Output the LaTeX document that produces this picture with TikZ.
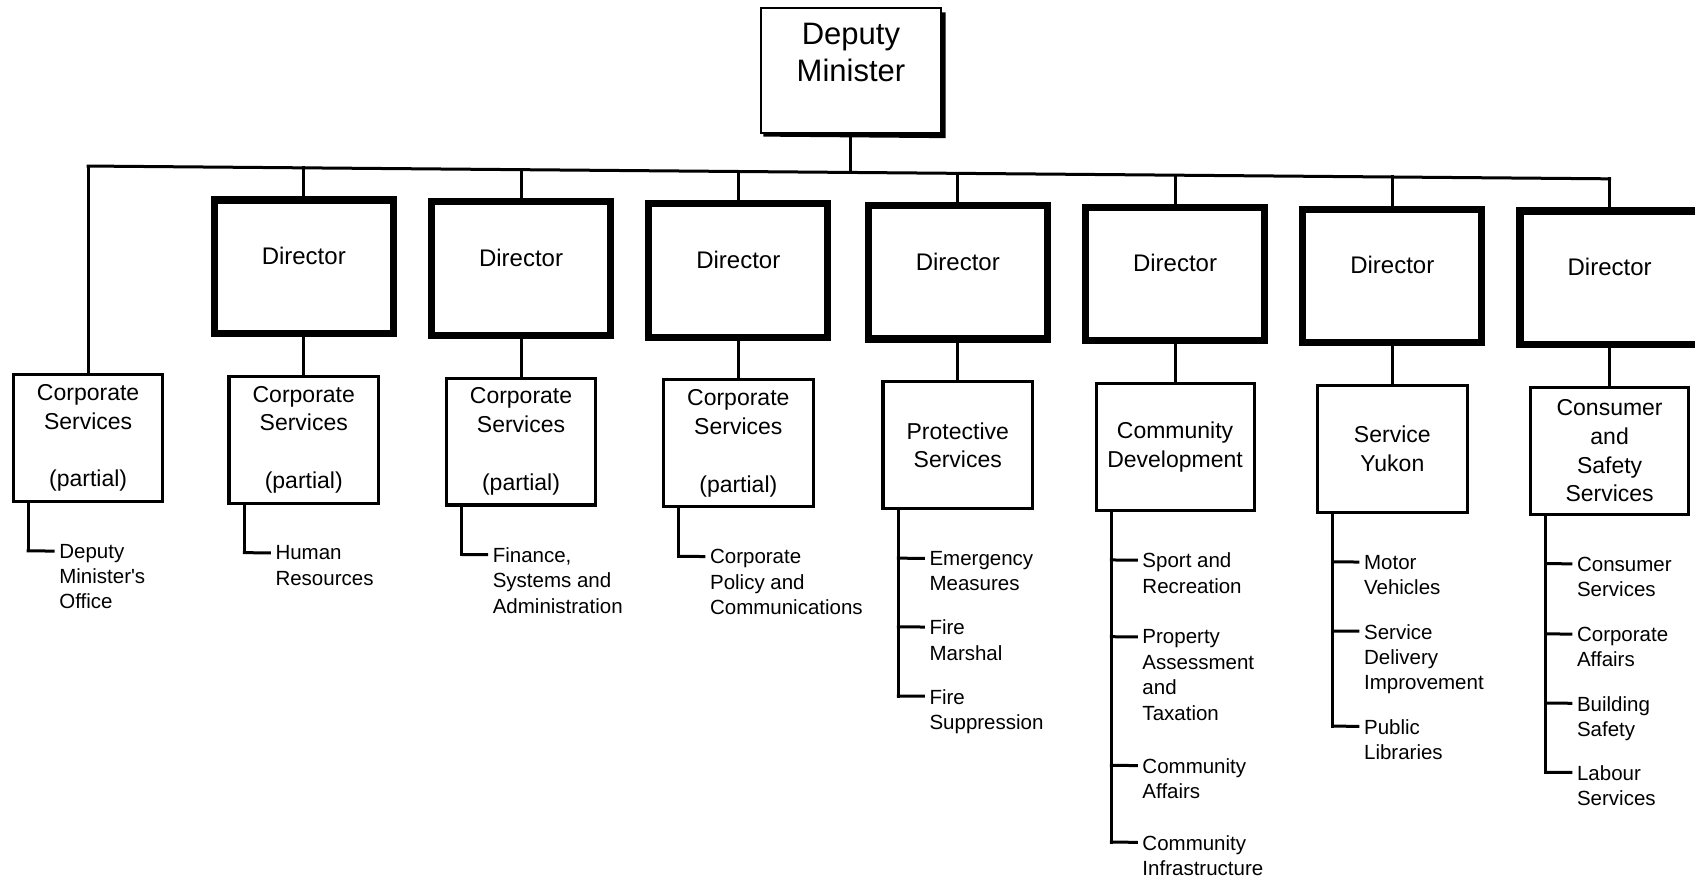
\documentclass[tikz,border=0pt]{standalone}
\usepackage{fontspec}
\setmainfont{Liberation Sans}[Ligatures=TeXOff]
\usetikzlibrary{backgrounds}
\newcommand{\mkleaf}[4]{%
  \node[leaf] (#1) at ({#2+28.7},{#3-6.8}) {#4};
  \draw[conn] (#1.north west) ++(-6pt,-7.3pt) -- ++(-25pt,0) coordinate (#1t);}
\begin{document}
\begin{tikzpicture}[x=1.081pt,y=-1.081pt,
  conn/.style={line width=3pt,line cap=rect},
  dmbox/.style={draw,line width=2.2pt,fill=white,minimum width=180pt,minimum height=125pt,inner sep=0pt,align=center,font=\fontsize{31}{37}\selectfont},
  dirbox/.style={draw,line width=7.3pt,minimum width=179pt,minimum height=133.5pt,inner sep=0pt,font=\fontsize{24}{29}\selectfont,text height=10pt,text depth=14.4pt},
  subbox/.style={draw,line width=3.1pt,minimum width=149.5pt,minimum height=126.9pt,inner sep=0pt,align=center,font=\fontsize{23}{28.8}\selectfont},
  widebox/.style={subbox,minimum width=158pt},
  leaf/.style={anchor=north west,inner sep=0pt,align=left,font=\fontsize{20.5}{25.4}\selectfont},
]
\useasboundingbox (0,0) rectangle (1568,812);
\clip (0,0) rectangle (1568,812);
\begin{scope}[cm={1,-0.0084,0,1,(0pt,7.13pt)}]
% top
\node[dmbox] (dm) at (787.2,65.2) {Deputy\\Minister\\\mbox{}};
\begin{scope}[on background layer]
  \fill ([shift={(3.5pt,-4pt)}]dm.north west) rectangle ([shift={(3.5pt,-4pt)}]dm.south east);
\end{scope}
% directors
\node[dirbox] (d1) at (281,251) {Director};
\node[dirbox] (d2) at (482,251) {Director};
\node[dirbox] (d3) at (683,251) {Director};
\node[dirbox] (d4) at (886,251) {Director};
\node[dirbox] (d5) at (1087,251) {Director};
\node[dirbox] (d6) at (1288,251) {Director};
\node[dirbox] (d7) at (1489,251) {Director};
% second level
\node[subbox] (s0) at (81.5,411) {Corporate\\Services\\\mbox{}\\(partial)};
\node[subbox] (s1) at (281,411) {Corporate\\Services\\\mbox{}\\(partial)};
\node[subbox] (s2) at (482,411) {Corporate\\Services\\\mbox{}\\(partial)};
\node[subbox] (s3) at (683,411) {Corporate\\Services\\\mbox{}\\(partial)};
\node[subbox] (s4) at (886,411) {Protective\\Services};
\node[widebox] (s5) at (1087,411) {Community\\Development};
\node[subbox] (s6) at (1288,411) {Service\\Yukon};
\node[widebox] (s7) at (1489,411) {Consumer\\and\\Safety\\Services};
% bus
\coordinate (busL) at (81.5,159.5);
\coordinate (busR) at (1489,159.5);
\draw[conn] (busL) -- (busR);
\draw[conn] (dm.south) -- (dm.south |- busL);
\draw[conn] (busL) -- (s0.north);
\foreach \i in {1,...,7}{
  \draw[conn] (d\i.north |- busL) -- (d\i.north);
  \draw[conn] (d\i.south) -- (s\i.north);
}
% leaves
\mkleaf{l0a}{26}{516}{Deputy\\Minister's\\Office}
\draw[conn] (s0.south -| l0at) -- (l0at);
\mkleaf{l1a}{226}{516}{Human\\Resources}
\draw[conn] (s1.south -| l1at) -- (l1at);
\mkleaf{l2a}{427}{516}{Finance,\\Systems and\\Administration}
\draw[conn] (s2.south -| l2at) -- (l2at);
\mkleaf{l3a}{628}{516}{Corporate\\Policy and\\Communications}
\draw[conn] (s3.south -| l3at) -- (l3at);
\mkleaf{l4a}{831}{516}{Emergency\\Measures}
\mkleaf{l4b}{831}{579.5}{Fire\\Marshal}
\mkleaf{l4c}{831}{643.5}{Fire\\Suppression}
\draw[conn] (s4.south -| l4ct) -- (l4ct);
\mkleaf{l5a}{1028}{516}{Sport and\\Recreation}
\mkleaf{l5b}{1028}{587}{Property\\Assessment\\and\\Taxation}
\mkleaf{l5c}{1028}{706}{Community\\Affairs}
\mkleaf{l5d}{1028}{777}{Community\\Infrastructure}
\draw[conn] (s5.south -| l5dt) -- (l5dt);
\mkleaf{l6a}{1233}{516}{Motor\\Vehicles}
\mkleaf{l6b}{1233}{580}{Service\\Delivery\\Improvement}
\mkleaf{l6c}{1233}{668}{Public\\Libraries}
\draw[conn] (s6.south -| l6ct) -- (l6ct);
\mkleaf{l7a}{1430}{516}{Consumer\\Services}
\mkleaf{l7b}{1430}{581}{Corporate\\Affairs}
\mkleaf{l7c}{1430}{645}{Building\\Safety}
\mkleaf{l7d}{1430}{709}{Labour\\Services}
\draw[conn] (s7.south -| l7dt) -- (l7dt);
\end{scope}
\end{tikzpicture}
\end{document}
